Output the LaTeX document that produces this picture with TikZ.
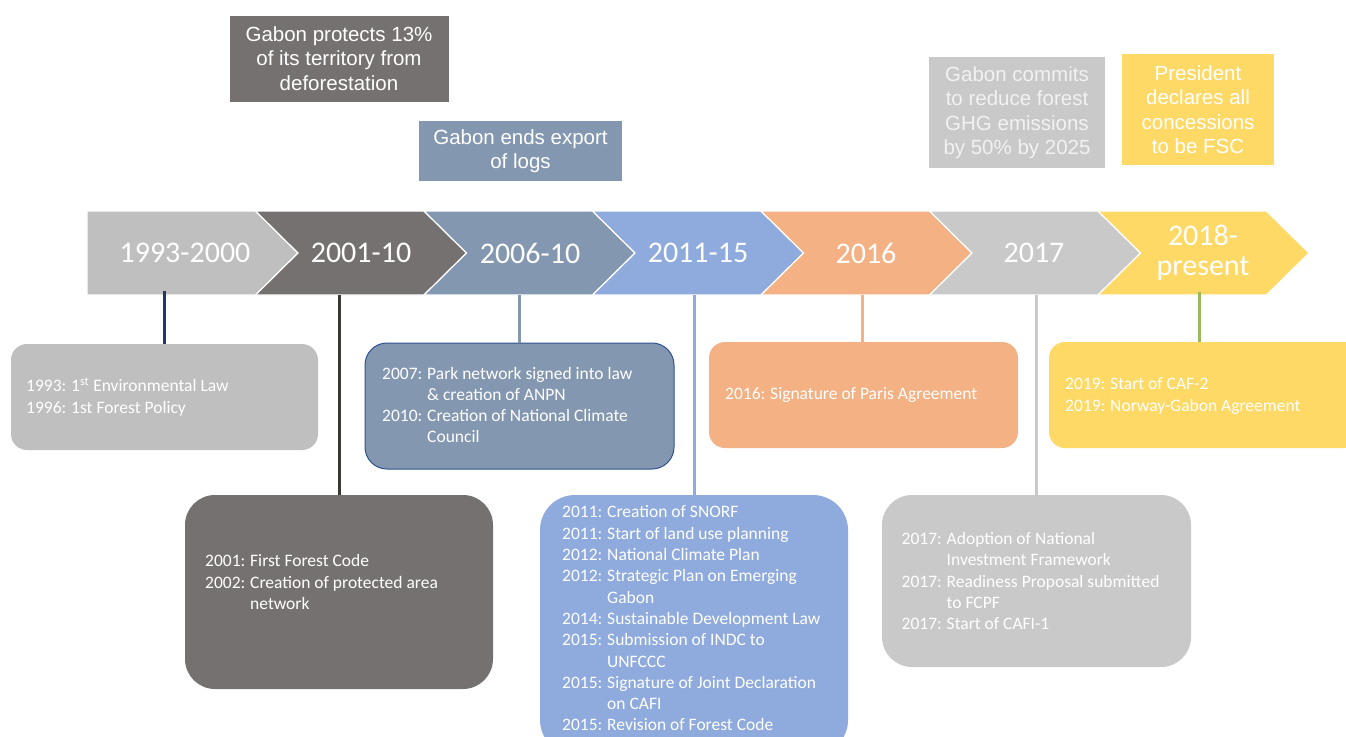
\documentclass[tikz,border=0pt]{standalone}
\usepackage{fontspec}
\setmainfont{Carlito}
\newfontfamily\arialf{Liberation Sans}
\definecolor{cA}{HTML}{BFBFBF}
\definecolor{cB}{HTML}{767171}
\definecolor{cC}{HTML}{8497B0}
\definecolor{cD}{HTML}{8FAADC}
\definecolor{cE}{HTML}{F4B183}
\definecolor{cF}{HTML}{C9C9C9}
\definecolor{cG}{HTML}{FFD966}
\definecolor{cCb}{HTML}{2F528F}
\definecolor{lnA}{HTML}{1F3864}
\definecolor{lnB}{HTML}{3B3838}
\definecolor{lnG}{HTML}{9BBB59}
\newcommand\yrlab[1]{\makebox[45pt][l]{#1:}}
\newcommand\indt{\hspace*{45pt}}
\begin{document}
\begin{tikzpicture}[x=1pt,y=-1pt,
  chev/.style={draw=white, line width=1.2pt},
  chtxt/.style={text=white, font=\fontsize{30}{30}\selectfont, align=center, inner sep=0pt},
  conn/.style={line width=3pt},
  rbox/.style={inner sep=0pt},
  btxt/.style={text=white, font=\fontsize{17.5}{21.3}\selectfont, align=left, inner sep=0pt, anchor=west},
  tbox/.style={inner sep=0pt, text=white, align=center, font=\arialf\fontsize{20.5}{24.5}\selectfont}]
\useasboundingbox (0,0) rectangle (1346,736);
\clip (0,0) rectangle (1346,736);
\fill[white] (0,0) rectangle (1346,736);

% top callouts
\node[tbox, fill=cB, minimum width=219pt, minimum height=86pt] (n1) at (339,58.5) {Gabon protects 13\%\\of its territory from\\deforestation};
\node[tbox, fill=cC, minimum width=203pt, minimum height=60pt] (n2) at (520.5,151) {Gabon ends export\\of logs};
\node[tbox, fill=cF, text=white!95!black, minimum width=176pt, minimum height=111pt] (n3) at (1017,112.5) {Gabon commits\\to reduce forest\\GHG emissions\\by 50\% by 2025};
\node[tbox, fill=cG, minimum width=152pt, minimum height=111pt] (n4) at (1198,109.5) {President\\declares all\\concessions\\to be FSC};

% chevrons
\fill[cA, chev] (87,211) -- (255.5,211) -- (298,253) -- (255.5,295) -- (87,295) -- cycle;
\fill[cB, chev] (255.5,211) -- (424,211) -- (466.5,253) -- (424,295) -- (255.5,295) -- (298,253) -- cycle;
\fill[cC, chev] (424,211) -- (592.5,211) -- (635,253) -- (592.5,295) -- (424,295) -- (466.5,253) -- cycle;
\fill[cD, chev] (592.5,211) -- (761,211) -- (803.5,253) -- (761,295) -- (592.5,295) -- (635,253) -- cycle;
\fill[cE, chev] (761,211) -- (929.5,211) -- (972,253) -- (929.5,295) -- (761,295) -- (803.5,253) -- cycle;
\fill[cF, chev] (929.5,211) -- (1098,211) -- (1140.5,253) -- (1098,295) -- (929.5,295) -- (972,253) -- cycle;
\fill[cG, chev] (1098,211) -- (1266.5,211) -- (1309,253) -- (1266.5,295) -- (1098,295) -- (1140.5,253) -- cycle;

\node[chtxt] (ch1) at (185,253) {1993-2000};
\node[chtxt] (ch2) at (361,253) {2001-10};
\node[chtxt] (ch3) at (530,253) {2006-10};
\node[chtxt] (ch4) at (698,253) {2011-15};
\node[chtxt] (ch5) at (866,253) {2016};
\node[chtxt] (ch6) at (1034,253) {2017};
\node[chtxt] (ch7) at (1203,253) {2018-\\present};

\coordinate (k1) at (164,291);
\coordinate (k2) at (339.5,295);
\coordinate (k3) at (519,295);
\coordinate (k4) at (694,295);
\coordinate (k5) at (862,295);
\coordinate (k6) at (1036,295);
\coordinate (k7) at (1199,292);

% boxes
\node[rbox, fill=cA, minimum width=307pt, minimum height=106pt, rounded corners=16pt] (bA) at (164.5,397) {};
\node[rbox, fill=cB, minimum width=308pt, minimum height=194pt, rounded corners=30pt] (bB) at (339,592) {};
\node[rbox, fill=cC, draw=cCb, line width=1pt, minimum width=309pt, minimum height=126pt, rounded corners=22pt] (bC) at (519.5,406) {};
\node[rbox, fill=cD, minimum width=308pt, minimum height=260pt, rounded corners=35pt] (bD) at (694,625) {};
\node[rbox, fill=cE, minimum width=309pt, minimum height=106pt, rounded corners=16pt] (bE) at (863.5,395) {};
\node[rbox, fill=cF, minimum width=309pt, minimum height=172pt, rounded corners=30pt] (bF) at (1036.5,581) {};
\node[rbox, fill=cG, minimum width=311pt, minimum height=106pt, rounded corners=16pt] (bG) at (1204.5,395) {};

% connectors
\draw[conn, lnA] (k1) -- (k1 |- bA.north);
\draw[conn, lnB] (k2) -- (k2 |- bB.north);
\draw[conn, cC] (k3) -- (k3 |- bC.north);
\draw[conn, cD] (k4) -- (k4 |- bD.north);
\draw[conn, cE] (k5) -- (k5 |- bE.north);
\draw[conn, cF] (k6) -- (k6 |- bF.north);
\draw[conn, lnG] (k7) -- (k7 |- bG.north);

% box texts
\node[btxt] (tA) at (26,397) {\yrlab{1993}1\textsuperscript{st} Environmental Law\\\yrlab{1996}1st Forest Policy};
\node[btxt] (tB) at (205,582) {\yrlab{2001}First Forest Code\\\yrlab{2002}Creation of protected area\\\indt network};
\node[btxt] (tC) at (382,405) {\yrlab{2007}Park network signed into law\\\indt\&\ creation of ANPN\\\yrlab{2010}Creation of National Climate\\\indt Council};
\node[btxt] (tD) at (562,618.5) {\yrlab{2011}Creation of SNORF\\\yrlab{2011}Start of land use planning\\\yrlab{2012}National Climate Plan\\\yrlab{2012}Strategic Plan on Emerging\\\indt Gabon\\\yrlab{2014}Sustainable Development Law\\\yrlab{2015}Submission of INDC to\\\indt UNFCCC\\\yrlab{2015}Signature of Joint Declaration\\\indt on CAFI\\\yrlab{2015}Revision of Forest Code};
\node[btxt] (tE) at (725,395) {\yrlab{2016}Signature of Paris Agreement};
\node[btxt] (tF) at (901.5,581) {\yrlab{2017}Adoption of National\\\indt Investment Framework\\\yrlab{2017}Readiness Proposal submitted\\\indt to FCPF\\\yrlab{2017}Start of CAFI-1};
\node[btxt] (tG) at (1065,396) {\yrlab{2019}Start of CAF-2\\\yrlab{2019}Norway-Gabon Agreement};
\end{tikzpicture}
\end{document}
